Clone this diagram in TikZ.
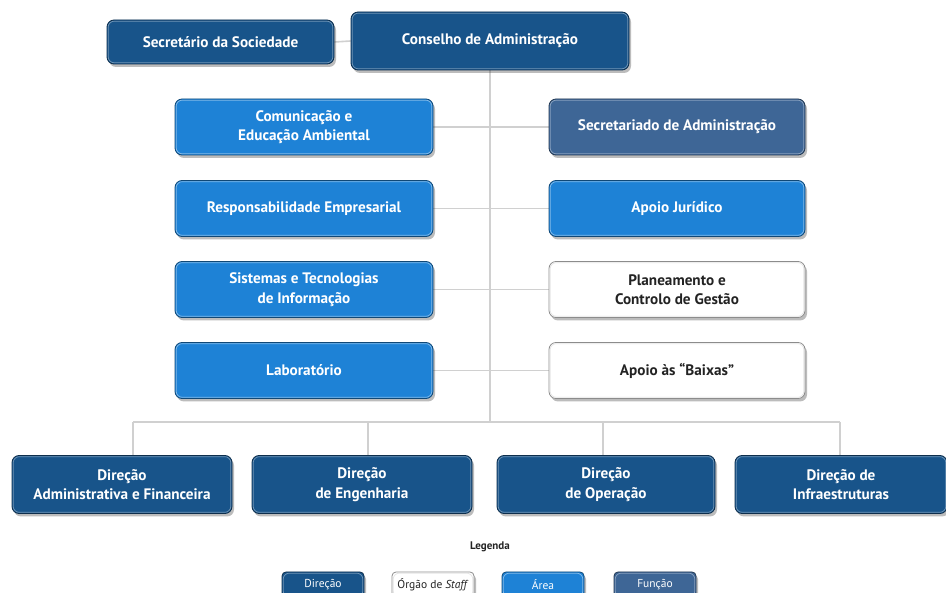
\documentclass[tikz,border=0pt]{standalone}
\usepackage{fontspec}
\setmainfont{PT Sans}
\usetikzlibrary{shadows}
\pgfdeclarelayer{background}
\pgfsetlayers{background,main}
\definecolor{dirblue}{RGB}{24,84,138}
\definecolor{areablue}{RGB}{30,130,214}
\definecolor{funcblue}{RGB}{62,102,150}
\definecolor{linegrey}{RGB}{208,208,208}
\definecolor{txtgrey}{RGB}{35,35,35}
\tikzset{
  basebox/.style={rounded corners=7pt, align=center, inner sep=2pt,
    font=\bfseries\fontsize{15.2}{19.5}\selectfont,
    drop shadow={shadow xshift=2pt, shadow yshift=-3pt, opacity=0.35, fill=black!75}},
  dirbox/.style={basebox, text=white, draw=dirblue!55!black, line width=0.8pt, fill=dirblue},
  areabox/.style={basebox, text=white, draw=areablue!55!black, line width=0.8pt, fill=areablue},
  funcbox/.style={basebox, text=white, draw=funcblue!55!black, line width=0.8pt, fill=funcblue},
  staffbox/.style={basebox, text=txtgrey, draw=black!45, line width=0.8pt, fill=white},
  innerline/.style={line width=0.7pt, rounded corners=6pt},
  conn/.style={draw=linegrey, line width=1.6pt},
  legbox/.style={minimum width=82pt, minimum height=26pt, font=\fontsize{11.5}{13}\selectfont, rounded corners=4pt}
}
\begin{document}
\begin{tikzpicture}[x=1pt,y=-1pt]
\useasboundingbox (0,0) rectangle (946,593);

% boxes
\node[dirbox, minimum width=278pt, minimum height=58pt] (cons) at (490,41) {Conselho de Administração};
\node[dirbox, minimum width=227pt, minimum height=44pt] (sec) at (220.5,42) {Secretário da Sociedade};

\node[areabox, minimum width=258pt, minimum height=56pt] (com) at (304,127) {Comunicação e\\Educação Ambiental};
\node[areabox, minimum width=258pt, minimum height=56pt] (resp) at (304,208.5) {Responsabilidade Empresarial};
\node[areabox, minimum width=258pt, minimum height=56pt] (sist) at (304,289.5) {Sistemas e Tecnologias\\de Informação};
\node[areabox, minimum width=258pt, minimum height=56pt] (lab) at (304,370.5) {Laboratório};

\node[funcbox, minimum width=256pt, minimum height=56pt] (secadm) at (677,127) {Secretariado de Administração};
\node[areabox, minimum width=256pt, minimum height=56pt] (jur) at (677,208.5) {Apoio Jurídico};
\node[staffbox, minimum width=256pt, minimum height=56pt] (plan) at (677,289.5) {Planeamento e\\Controlo de Gestão};
\node[staffbox, minimum width=256pt, minimum height=56pt] (baix) at (677,370.5) {Apoio às “Baixas”};

\node[dirbox, minimum width=220pt, minimum height=58pt] (d1) at (122,484.5) {Direção\\Administrativa e Financeira};
\node[dirbox, minimum width=220pt, minimum height=58pt] (d2) at (362,484.5) {Direção\\de Engenharia};
\node[dirbox, minimum width=218pt, minimum height=58pt] (d3) at (606,484.5) {Direção\\de Operação};
\node[dirbox, minimum width=212pt, minimum height=58pt] (d4) at (841,484.5) {Direção de\\Infraestruturas};

% legend
\node[font=\bfseries\fontsize{11}{13}\selectfont, text=txtgrey] (leg) at (490,547) {Legenda};
\node[dirbox, legbox] (l1) at (323,585) {Direção};
\node[staffbox, legbox] (l2) at (433,585) {Órgão de \textit{Staff}};
\node[areabox, legbox] (l3) at (543,585) {Área};
\node[funcbox, legbox] (l4) at (655,585) {Função};

% inner highlight lines
\foreach \n/\c in {cons/dirblue!62!white, sec/dirblue!62!white, d1/dirblue!62!white,
  d2/dirblue!62!white, d3/dirblue!62!white, d4/dirblue!62!white, l1/dirblue!62!white,
  com/areablue!55!white, resp/areablue!55!white, sist/areablue!55!white,
  lab/areablue!55!white, jur/areablue!55!white, l3/areablue!55!white,
  secadm/funcblue!62!white, l4/funcblue!62!white,
  plan/black!10, baix/black!10, l2/black!10}
  \draw[innerline, draw=\c] ([shift={(1.6pt,-1.6pt)}]\n.north west) rectangle ([shift={(-1.6pt,1.6pt)}]\n.south east);

% connectors (behind boxes)
\begin{pgfonlayer}{background}
\fill[white] (0,0) rectangle (946,593);
\coordinate (bus) at (490,422);
\coordinate (b1) at (133,422);
\coordinate (b2) at (368,422);
\coordinate (b3) at (603,422);
\coordinate (b4) at (840,422);
\draw[conn] (sec.east) -- (cons.west);
\draw[conn] (cons.south) -- (bus);
\draw[conn] (com.east) -- (secadm.west);
\draw[conn] (resp.east) -- (jur.west);
\draw[conn] (sist.east) -- (plan.west);
\draw[conn] (lab.east) -- (baix.west);
\draw[conn] (b1) -- (b4);
\draw[conn] (b1) -- (b1 |- d1.north);
\draw[conn] (b2) -- (b2 |- d2.north);
\draw[conn] (b3) -- (b3 |- d3.north);
\draw[conn] (b4) -- (b4 |- d4.north);
\end{pgfonlayer}
\end{tikzpicture}
\end{document}
